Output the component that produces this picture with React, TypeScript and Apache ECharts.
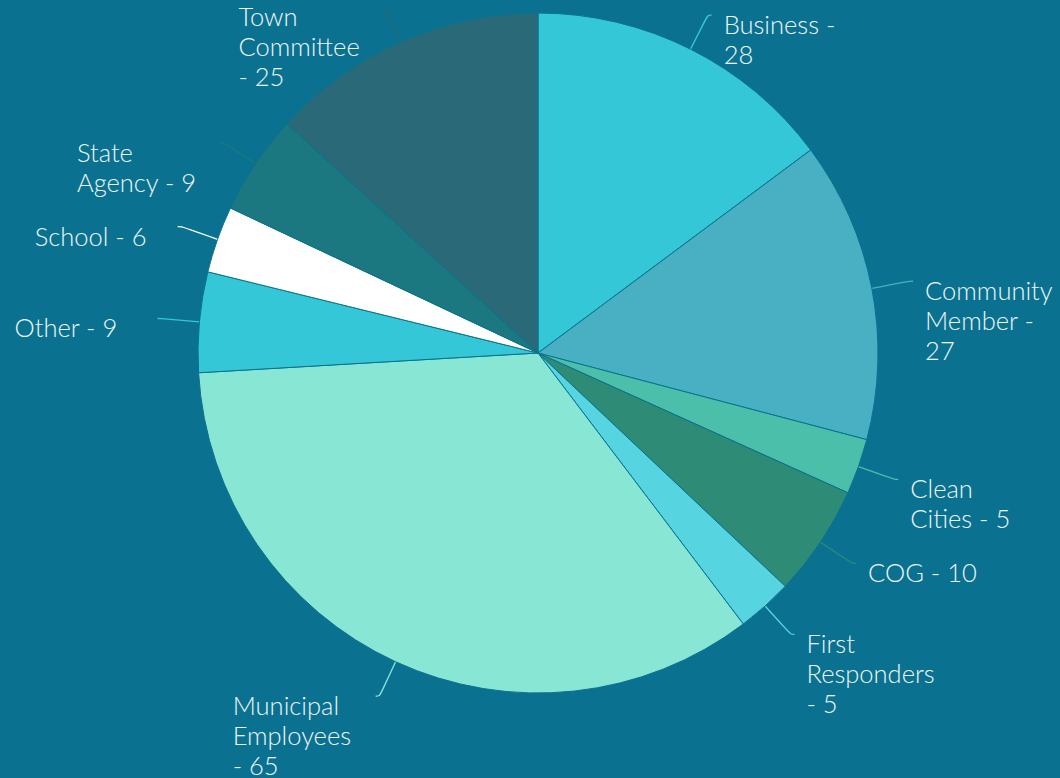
import React, { useEffect, useRef } from "react";
import * as echarts from "echarts";

const categories = [
  "Business",
  "Community Member",
  "Clean Cities",
  "COG",
  "First Responders",
  "Municipal Employees",
  "Other",
  "School",
  "State Agency",
  "Town Committee",
];
const values = [28, 27, 5, 10, 5, 65, 9, 6, 9, 25];
const colors = [
  "#33c7d7",
  "#48b0c2",
  "#4bbfaa",
  "#2e8b76",
  "#56d5e0",
  "#88e6d4",
  "#33c7d7",
  "#ffffff",
  "#1c7880",
  "#2a6a78",
];

const BG = "#0a7290";
const TEXT = "#eef6f7";
const FONT_SIZE = 25.5;
const WRAP = 128.5;

function wrapWords(text: string, font: string, maxW: number): string[] {
  const ctx = document.createElement("canvas").getContext("2d")!;
  ctx.font = font;
  const words = text.split(" ");
  const lines: string[] = [];
  let cur = "";
  for (const w of words) {
    const trial = cur ? cur + " " + w : w;
    if (!cur || ctx.measureText(trial).width <= maxW) {
      cur = trial;
    } else {
      lines.push(cur);
      cur = w;
    }
  }
  if (cur) lines.push(cur);
  return lines;
}

export default function App() {
  const ref = useRef<HTMLDivElement>(null);
  useEffect(() => {
    document.body.style.margin = "0";
    const font = `300 ${FONT_SIZE}px Lato`;
    const chart = echarts.init(ref.current!, null, { renderer: "svg" });
    chart.setOption({
      animation: false,
      backgroundColor: BG,
      series: [
        {
          type: "pie",
          center: [538, 353],
          radius: 340,
          startAngle: 90,
          clockwise: true,
          avoidLabelOverlap: false,
          itemStyle: { borderColor: BG, borderWidth: 1 },
          label: {
            show: true,
            position: "outside",
            formatter: (p: any) =>
              wrapWords(`${p.name} - ${p.value}`, font, WRAP)
                .map((l) => `{a|${l}}`)
                .join("\n"),
            width: 131,
            overflow: "none",
            padding: [-6, 0, 0, 0],
            distanceToLabelLine: 12,
            fontFamily: "Lato",
            fontSize: FONT_SIZE,
            fontWeight: 300,
            lineHeight: 30,
            color: TEXT,
            rich: {
              a: {
                align: "left",
                fontFamily: "Lato",
                fontSize: FONT_SIZE,
                fontWeight: 300,
                lineHeight: 30,
                color: TEXT,
              },
            },
          },
          labelLine: {
            show: true,
            length: 38,
            length2: 4,
            smooth: 0.4,
            lineStyle: { width: 1.3 },
          },
          labelLayout: () => ({ verticalAlign: "top" }),
          data: categories.map((name, i) => ({
            name,
            value: values[i],
            itemStyle: { color: colors[i] },
          })),
        },
      ],
    });
    return () => chart.dispose();
  }, []);
  return <div ref={ref} style={{ width: 1060, height: 778, background: BG }} />;
}
